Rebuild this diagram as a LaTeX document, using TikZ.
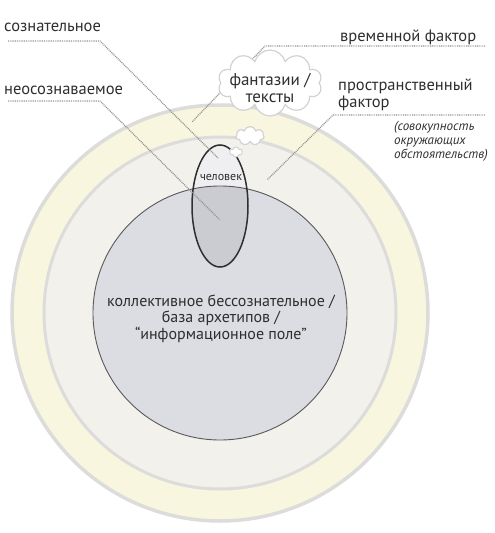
\documentclass[tikz,border=0pt]{standalone}
\usepackage{fontspec}
\setmainfont{PT Sans}
\usetikzlibrary{shapes.symbols}

\definecolor{ringyellow}{HTML}{F8F6DF}
\definecolor{ringbeige}{HTML}{F3F1EC}
\definecolor{ringline}{HTML}{DCDCDA}
\definecolor{corefill}{HTML}{DCDDE2}
\definecolor{manhigh}{HTML}{EFEFF1}
\definecolor{manlow}{HTML}{CBCCD1}
\definecolor{inkgray}{HTML}{2E2E2E}

\tikzset{
  lbl/.style={font=\fontsize{16.5}{18}\selectfont, text=inkgray, inner sep=0pt},
  sidenote/.style={lbl, font=\fontsize{13}{14}\itshape},
  dotline/.style={draw=gray!85, line width=1.3pt, dash pattern=on 0.9pt off 0.9pt},
  thought/.style={cloud, cloud puffs=10, cloud ignores aspect, draw=gray!35,
    line width=1.2pt, fill=white, inner sep=0pt}
}

\begin{document}
\begin{tikzpicture}[x=1pt,y=-1pt]
  \useasboundingbox (0,0) rectangle (495,533);
  \coordinate (c) at (220,313);

  % cerchi concentrici
  \filldraw[fill=ringyellow, draw=ringline, line width=3.5pt] (c) circle (208pt);
  \filldraw[fill=ringbeige, draw=ringline, line width=3pt] (c) circle (176pt);
  \fill[corefill] (c) circle (127pt);

  % persona: parte alta chiara, parte bassa dentro il cerchio
  \coordinate (man) at (220,206);
  \fill[manhigh] (man) ellipse (28pt and 61pt);
  \begin{scope}
    \clip (c) circle (127pt);
    \fill[manlow] (man) ellipse (28pt and 61pt);
  \end{scope}
  \draw[gray!70!black, line width=0.9pt] (c) circle (127pt);
  \draw[inkgray, line width=1.5pt] (man) ellipse (28pt and 61pt);
  \node[font=\fontsize{12}{14}\selectfont, text=inkgray, anchor=base] (chel) at (221,180) {человек};

  % linee tratteggiate
  \coordinate (sozn-a) at (8,41);
  \coordinate (sozn-b) at (100,41);
  \coordinate (sozn-e) at (218,158);
  \draw[dotline] (sozn-a) -- (sozn-b) -- (sozn-e);
  \coordinate (neos-a) at (8,101);
  \coordinate (neos-b) at (100,101);
  \coordinate (neos-e) at (220,220);
  \draw[dotline] (neos-a) -- (neos-b) -- (neos-e);
  \coordinate (vrem-a) at (485,46);
  \coordinate (vrem-b) at (265,46);
  \coordinate (vrem-e) at (192,122);
  \draw[dotline] (vrem-a) -- (vrem-b) -- (vrem-e);
  \coordinate (prost-a) at (485,115);
  \coordinate (prost-b) at (333,115);
  \coordinate (prost-e) at (267,180);
  \draw[dotline] (prost-a) -- (prost-b) -- (prost-e);

  % nuvolette
  \node[thought, minimum width=104pt, minimum height=66pt] (fant) at (270,83) {};
  \node[thought, cloud puffs=7, minimum width=28pt, minimum height=19pt] (mid) at (250,136) {};
  \node[thought, cloud puffs=6, line width=1pt, minimum width=13pt, minimum height=10pt] (tiny) at (236,152) {};
  \node[lbl, font=\fontsize{17}{17}\selectfont, align=center, anchor=base] (fant-t) at (270,102)
    {фантазии /\\тексты};

  % etichette
  \node[lbl, anchor=base west] (sozn) at (4,31) {сознательное};
  \node[lbl, anchor=base west] (neos) at (4,94) {неосознаваемое};
  \node[lbl, anchor=base west] (vrem) at (340,41) {временной фактор};
  \node[lbl, font=\fontsize{16.5}{17}\selectfont, align=left, anchor=base west] (prost) at (338,107)
    {пространственный\\фактор};
  \node[sidenote, align=left, anchor=base west] (sov) at (394,158)
    {(совокупность\\окружающих\\обстоятельств)};

  % testo centrale
  \node[lbl, font=\fontsize{16}{16.5}\selectfont, align=center, anchor=base] (kol) at (221,339)
    {коллективное бессознательное /\\база архетипов /\\“информационное поле”};
\end{tikzpicture}
\end{document}
